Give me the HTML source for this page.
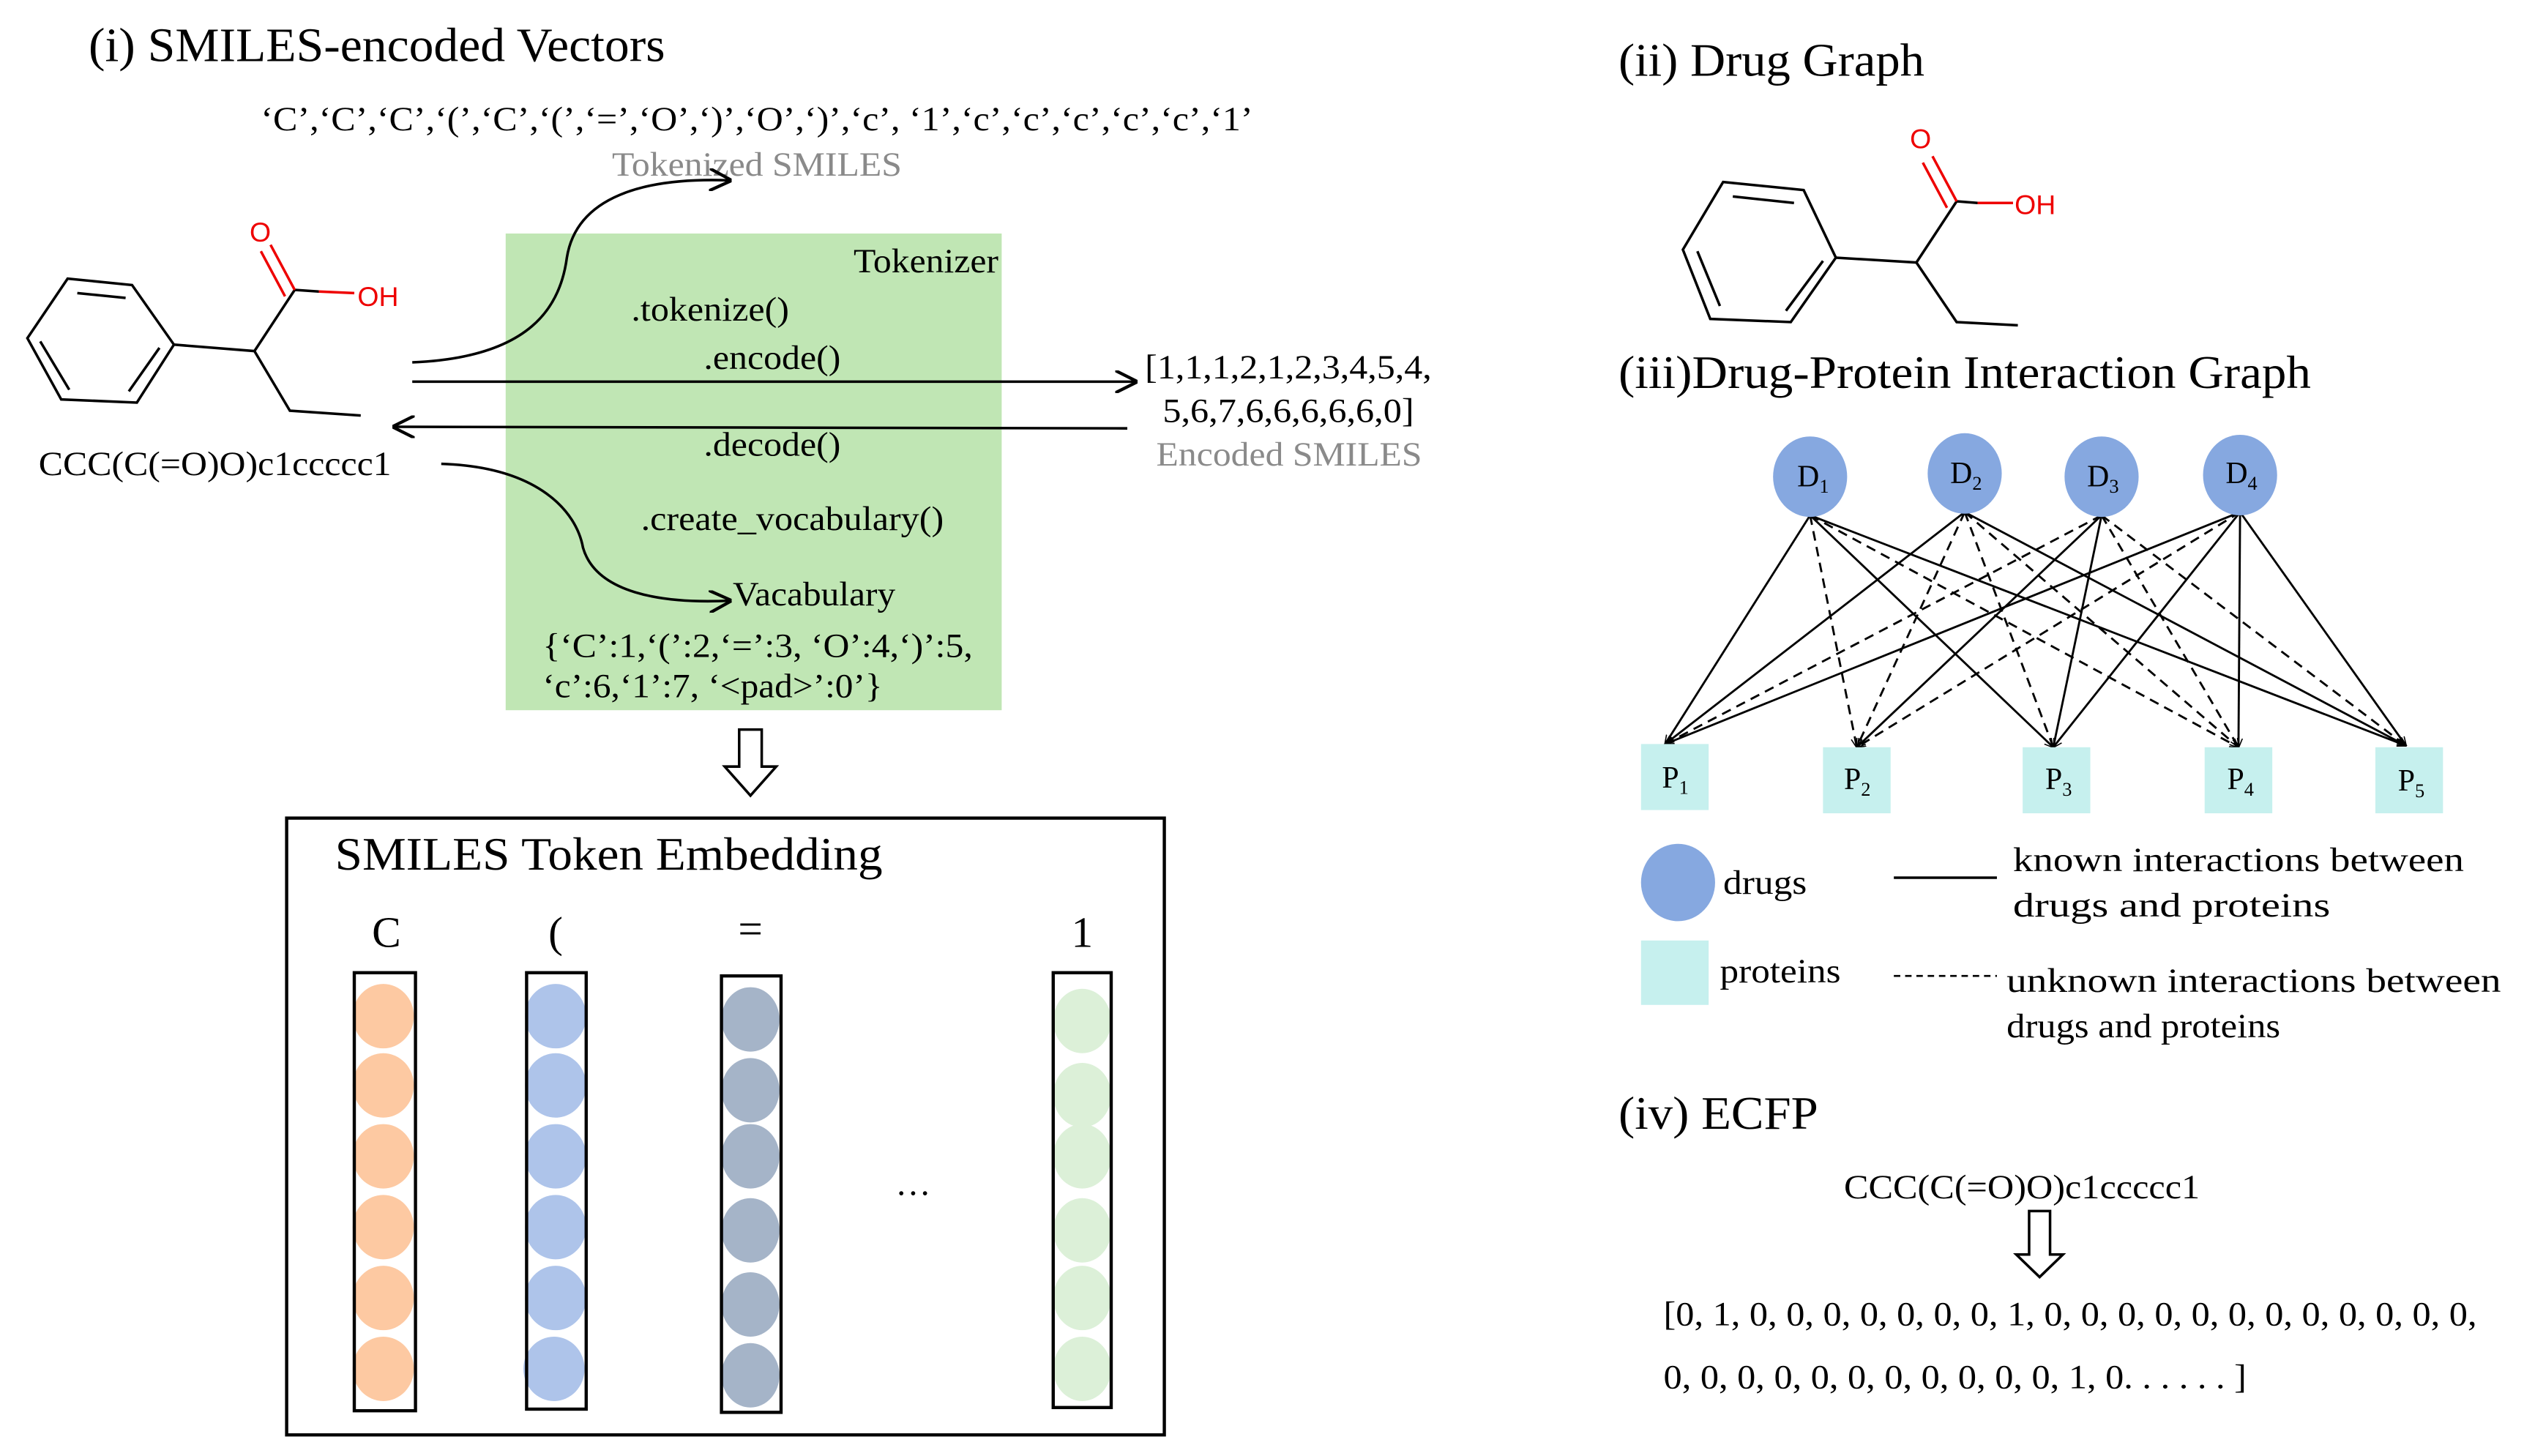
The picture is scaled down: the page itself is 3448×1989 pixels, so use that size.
<!DOCTYPE html>
<html><head><meta charset="utf-8"><style>
html,body{margin:0;padding:0;background:#fff;}
svg{display:block;}
text{font-family:"Liberation Serif",serif;fill:#000;}
</style></head><body>
<svg width="3448" height="1989" viewBox="0 0 1567.3 904.1" xmlns="http://www.w3.org/2000/svg">
<defs>
<marker id="ah2" viewBox="0 0 10 10" refX="9" refY="5" markerWidth="14" markerHeight="14" markerUnits="userSpaceOnUse" orient="auto"><path d="M0,0 L10,5 L0,10" fill="none" stroke="#000" stroke-width="1.4"/></marker>
<marker id="sm" viewBox="0 0 10 10" refX="9" refY="5" markerWidth="6" markerHeight="6" markerUnits="userSpaceOnUse" orient="auto"><path d="M0,1 L10,5 L0,9" fill="none" stroke="#000" stroke-width="1.2"/></marker>
</defs>

<!-- (i) -->
<text x="55" y="38" font-size="30" textLength="358" lengthAdjust="spacingAndGlyphs">(i) SMILES-encoded Vectors</text>
<text x="162" y="81" font-size="21" textLength="616" lengthAdjust="spacingAndGlyphs">‘C’,‘C’,‘C’,‘(’,‘C’,‘(’,‘=’,‘O’,‘)’,‘O’,‘)’,‘c’, ‘1’,‘c’,‘c’,‘c’,‘c’,‘c’,‘1’</text>
<text x="380" y="109" font-size="21" textLength="180" lengthAdjust="spacingAndGlyphs" style="fill:#8a8a8a">Tokenized SMILES</text>

<rect x="314" y="145" width="308" height="296" fill="#c0e6b4"/>
<text x="530" y="169" font-size="21" textLength="90" lengthAdjust="spacingAndGlyphs">Tokenizer</text>
<text x="392" y="199" font-size="21" textLength="98" lengthAdjust="spacingAndGlyphs">.tokenize()</text>
<text x="437" y="229" font-size="21" textLength="85" lengthAdjust="spacingAndGlyphs">.encode()</text>
<text x="437" y="283" font-size="21" textLength="85" lengthAdjust="spacingAndGlyphs">.decode()</text>
<text x="398" y="329" font-size="21" textLength="188" lengthAdjust="spacingAndGlyphs">.create_vocabulary()</text>
<text x="455" y="376" font-size="21" textLength="101" lengthAdjust="spacingAndGlyphs">Vacabulary</text>
<text x="337" y="408" font-size="21" textLength="267" lengthAdjust="spacingAndGlyphs">{‘C’:1,‘(’:2,‘=’:3, ‘O’:4,‘)’:5,</text>
<text x="337" y="433" font-size="21" textLength="211" lengthAdjust="spacingAndGlyphs">‘c’:6,‘1’:7, ‘&lt;pad&gt;’:0’}</text>

<line x1="256" y1="237" x2="705" y2="237" stroke="#000" stroke-width="1.6" marker-end="url(#ah2)"/>
<line x1="700" y1="266" x2="245" y2="265" stroke="#000" stroke-width="1.6" marker-end="url(#ah2)"/>
<path d="M256,225 C330,222 348,190 352,160 C358,122 400,110 453,112" fill="none" stroke="#000" stroke-width="1.6" marker-end="url(#ah2)"/>
<path d="M274,288 C335,290 358,318 362,340 C370,368 410,375 453,373" fill="none" stroke="#000" stroke-width="1.6" marker-end="url(#ah2)"/>

<text x="711" y="235" font-size="21" textLength="178" lengthAdjust="spacingAndGlyphs">[1,1,1,2,1,2,3,4,5,4,</text>
<text x="722" y="262" font-size="21" textLength="156" lengthAdjust="spacingAndGlyphs">5,6,7,6,6,6,6,6,0]</text>
<text x="718" y="289" font-size="21" textLength="165" lengthAdjust="spacingAndGlyphs" style="fill:#8a8a8a">Encoded SMILES</text>

<!-- left molecule -->
<g fill="none" stroke="#000" stroke-width="1.6">
<polygon points="42,173 82,177 108,214 85,250 38,248 17,210"/>
<line x1="48" y1="182" x2="78" y2="185"/>
<line x1="25" y1="212" x2="43" y2="242"/>
<line x1="99" y1="216" x2="80" y2="243"/>
<polyline points="108,214 158,218 180,255 224,258"/>
<line x1="158" y1="218" x2="183" y2="180"/>
</g>
<g stroke="#000" stroke-width="1.6"><line x1="183" y1="180" x2="198" y2="181"/></g>
<g stroke="#e00" stroke-width="1.6" fill="none">
<line x1="198" y1="181" x2="220" y2="182"/>
<line x1="183" y1="180" x2="168" y2="152"/>
<line x1="177" y1="184" x2="162" y2="156"/>
</g>
<text x="155" y="150" font-size="17" style="fill:#e00;font-family:'Liberation Sans',sans-serif">O</text>
<text x="222" y="190" font-size="17" style="fill:#e00;font-family:'Liberation Sans',sans-serif">OH</text>
<text x="24" y="295" font-size="21" textLength="219" lengthAdjust="spacingAndGlyphs">CCC(C(=O)O)c1ccccc1</text>

<!-- hollow down arrow -->
<path d="M459,453 L473,453 L473,476 L482,476 L466,494 L450,476 L459,476 Z" fill="#fff" stroke="#000" stroke-width="1.6"/>

<!-- embedding box -->
<rect x="178" y="508" width="545" height="383" fill="none" stroke="#000" stroke-width="2"/>
<text x="208" y="540" font-size="29" textLength="340" lengthAdjust="spacingAndGlyphs">SMILES Token Embedding</text>
<text x="240" y="588" font-size="27" text-anchor="middle">C</text>
<text x="345" y="588" font-size="27" text-anchor="middle">(</text>
<text x="466" y="586" font-size="27" text-anchor="middle">=</text>
<text x="672" y="588" font-size="27" text-anchor="middle">1</text>
<text x="567" y="742" font-size="22" text-anchor="middle">…</text>
<g>
<g fill="#fdc9a2">
<ellipse cx="238" cy="631" rx="19" ry="20"/><ellipse cx="238" cy="674" rx="19" ry="20"/><ellipse cx="238" cy="718" rx="19" ry="20"/><ellipse cx="238" cy="762" rx="19" ry="20"/><ellipse cx="238" cy="806" rx="19" ry="20"/><ellipse cx="238" cy="850" rx="19" ry="20"/>
</g>
<g fill="#aec4ea">
<ellipse cx="345" cy="631" rx="19" ry="20"/><ellipse cx="345" cy="674" rx="19" ry="20"/><ellipse cx="345" cy="718" rx="19" ry="20"/><ellipse cx="345" cy="762" rx="19" ry="20"/><ellipse cx="345" cy="806" rx="19" ry="20"/><ellipse cx="344" cy="850" rx="19" ry="20"/>
</g>
<g fill="#a5b4c8">
<ellipse cx="466" cy="633" rx="18" ry="20"/><ellipse cx="466" cy="677" rx="18" ry="20"/><ellipse cx="466" cy="718" rx="18" ry="20"/><ellipse cx="466" cy="764" rx="18" ry="20"/><ellipse cx="466" cy="810" rx="18" ry="20"/><ellipse cx="466" cy="854" rx="18" ry="20"/>
</g>
<g fill="#dcf0d8">
<ellipse cx="672" cy="634" rx="18" ry="20"/><ellipse cx="672" cy="680" rx="18" ry="20"/><ellipse cx="672" cy="718" rx="18" ry="20"/><ellipse cx="672" cy="764" rx="18" ry="20"/><ellipse cx="672" cy="806" rx="18" ry="20"/><ellipse cx="672" cy="850" rx="18" ry="20"/>
</g>
<g fill="none" stroke="#000" stroke-width="2">
<rect x="220" y="604" width="38" height="272"/>
<rect x="327" y="604" width="37" height="271"/>
<rect x="448" y="606" width="37" height="271"/>
<rect x="654" y="604" width="36" height="270"/>
</g>
</g>

<!-- (ii) -->
<text x="1005" y="47" font-size="29" textLength="190" lengthAdjust="spacingAndGlyphs">(ii) Drug Graph</text>
<g fill="none" stroke="#000" stroke-width="1.6">
<polygon points="1070,113 1120,118 1140,160 1112,200 1062,198 1045,155"/>
<line x1="1076" y1="122" x2="1114" y2="126"/>
<line x1="1054" y1="156" x2="1068" y2="190"/>
<line x1="1132" y1="162" x2="1109" y2="193"/>
<polyline points="1140,160 1190,163 1215,200 1253,202"/>
<line x1="1190" y1="163" x2="1215" y2="125"/>
</g>
<line x1="1215" y1="125" x2="1228" y2="126" stroke="#000" stroke-width="1.6"/>
<g stroke="#e00" stroke-width="1.6">
<line x1="1228" y1="126" x2="1250" y2="126"/>
<line x1="1215" y1="125" x2="1200" y2="97"/>
<line x1="1209" y1="129" x2="1194" y2="101"/>
</g>
<text x="1186" y="92" font-size="17" style="fill:#e00;font-family:'Liberation Sans',sans-serif">O</text>
<text x="1251" y="133" font-size="17" style="fill:#e00;font-family:'Liberation Sans',sans-serif">OH</text>

<!-- (iii) -->
<text x="1005" y="241" font-size="29" textLength="430" lengthAdjust="spacingAndGlyphs">(iii)Drug-Protein Interaction Graph</text>
<g stroke="#000" stroke-width="1.3" fill="none" marker-end="url(#sm)">
<line x1="1124" y1="320" x2="1034" y2="462"/>
<line x1="1124" y1="320" x2="1153" y2="464" stroke-dasharray="6,4"/>
<line x1="1124" y1="320" x2="1275" y2="464"/>
<line x1="1124" y1="320" x2="1390" y2="464" stroke-dasharray="6,4"/>
<line x1="1124" y1="320" x2="1494" y2="463"/>
<line x1="1220" y1="318" x2="1034" y2="462"/>
<line x1="1220" y1="318" x2="1153" y2="464" stroke-dasharray="6,4"/>
<line x1="1220" y1="318" x2="1275" y2="464" stroke-dasharray="6,4"/>
<line x1="1220" y1="318" x2="1390" y2="464" stroke-dasharray="6,4"/>
<line x1="1220" y1="318" x2="1494" y2="463"/>
<line x1="1305" y1="320" x2="1034" y2="462" stroke-dasharray="6,4"/>
<line x1="1305" y1="320" x2="1153" y2="464"/>
<line x1="1305" y1="320" x2="1275" y2="464"/>
<line x1="1305" y1="320" x2="1390" y2="464" stroke-dasharray="6,4"/>
<line x1="1305" y1="320" x2="1494" y2="463" stroke-dasharray="6,4"/>
<line x1="1391" y1="318" x2="1034" y2="462"/>
<line x1="1391" y1="318" x2="1153" y2="464" stroke-dasharray="6,4"/>
<line x1="1391" y1="318" x2="1275" y2="464"/>
<line x1="1391" y1="318" x2="1390" y2="464"/>
<line x1="1391" y1="318" x2="1494" y2="463"/>
</g>
<g fill="#86a8e0">
<ellipse cx="1124" cy="296" rx="23" ry="25"/>
<ellipse cx="1220" cy="294" rx="23" ry="25"/>
<ellipse cx="1305" cy="296" rx="23" ry="25"/>
<ellipse cx="1391" cy="295" rx="23" ry="25"/>
</g>
<g font-size="19">
<text x="1116" y="302">D<tspan font-size="12" dy="4">1</tspan></text>
<text x="1211" y="300">D<tspan font-size="12" dy="4">2</tspan></text>
<text x="1296" y="302">D<tspan font-size="12" dy="4">3</tspan></text>
<text x="1382" y="300">D<tspan font-size="12" dy="4">4</tspan></text>
</g>
<g fill="#c6f0ee">
<rect x="1019" y="462" width="42" height="41"/>
<rect x="1132" y="464" width="42" height="41"/>
<rect x="1256" y="464" width="42" height="41"/>
<rect x="1369" y="464" width="42" height="41"/>
<rect x="1475" y="464" width="42" height="41"/>
</g>
<g font-size="19">
<text x="1032" y="489">P<tspan font-size="12" dy="4">1</tspan></text>
<text x="1145" y="490">P<tspan font-size="12" dy="4">2</tspan></text>
<text x="1270" y="490">P<tspan font-size="12" dy="4">3</tspan></text>
<text x="1383" y="490">P<tspan font-size="12" dy="4">4</tspan></text>
<text x="1489" y="491">P<tspan font-size="12" dy="4">5</tspan></text>
</g>

<!-- legend -->
<ellipse cx="1042" cy="548" rx="23" ry="24" fill="#86a8e0"/>
<text x="1070" y="555" font-size="21" textLength="52" lengthAdjust="spacingAndGlyphs">drugs</text>
<line x1="1176" y1="545" x2="1240" y2="545" stroke="#000" stroke-width="1.6"/>
<text x="1250" y="541" font-size="21" textLength="280" lengthAdjust="spacingAndGlyphs">known interactions between</text>
<text x="1250" y="569" font-size="21" textLength="197" lengthAdjust="spacingAndGlyphs">drugs and proteins</text>
<rect x="1019" y="584" width="42" height="40" fill="#c6f0ee"/>
<text x="1068" y="610" font-size="21" textLength="75" lengthAdjust="spacingAndGlyphs">proteins</text>
<line x1="1176" y1="606" x2="1240" y2="606" stroke="#000" stroke-width="1.2" stroke-dasharray="4,3"/>
<text x="1246" y="616" font-size="21" textLength="307" lengthAdjust="spacingAndGlyphs">unknown interactions between</text>
<text x="1246" y="644" font-size="21" textLength="170" lengthAdjust="spacingAndGlyphs">drugs and proteins</text>

<!-- (iv) -->
<text x="1005" y="701" font-size="29" textLength="124" lengthAdjust="spacingAndGlyphs">(iv) ECFP</text>
<text x="1145" y="744" font-size="21" textLength="221" lengthAdjust="spacingAndGlyphs">CCC(C(=O)O)c1ccccc1</text>
<path d="M1260,752 L1273,752 L1273,779 L1281,779 L1266.5,793 L1252,779 L1260,779 Z" fill="#fff" stroke="#000" stroke-width="1.6"/>
<text x="1033" y="823" font-size="21" textLength="505" lengthAdjust="spacingAndGlyphs">[0, 1, 0, 0, 0, 0, 0, 0, 0, 1, 0, 0, 0, 0, 0, 0, 0, 0, 0, 0, 0, 0,</text>
<text x="1033" y="862" font-size="21" textLength="362" lengthAdjust="spacingAndGlyphs">0, 0, 0, 0, 0, 0, 0, 0, 0, 0, 0, 1, 0. . . . . . ]</text>
</svg>
</body></html>
